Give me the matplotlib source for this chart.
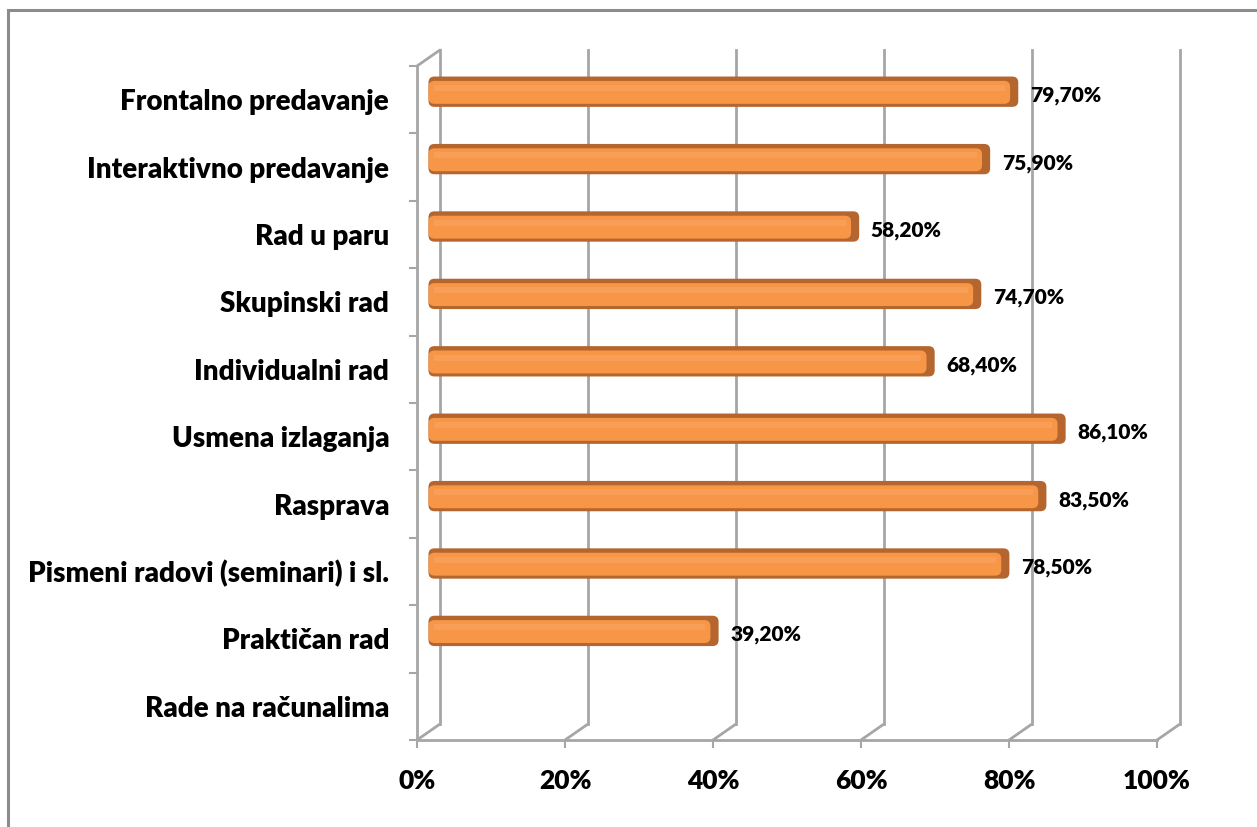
"""
Horizontal 3D-style bar chart (Excel look): share of teaching methods.
"""

import matplotlib
matplotlib.use("Agg")
import matplotlib.pyplot as plt
from matplotlib.patches import FancyBboxPatch, ConnectionPatch, Rectangle
from matplotlib.transforms import ScaledTranslation

# ── data ────────────────────────────────────────────────────────────
categories = [
    "Frontalno predavanje",
    "Interaktivno predavanje",
    "Rad u paru",
    "Skupinski rad",
    "Individualni rad",
    "Usmena izlaganja",
    "Rasprava",
    "Pismeni radovi (seminari) i sl.",
    "Praktičan rad",
    "Rade na računalima",
]
values = [79.7, 75.9, 58.2, 74.7, 68.4, 86.1, 83.5, 78.5, 39.2, None]
x_ticks = [0, 20, 40, 60, 80, 100]
x_tick_labels = ["0%", "20%", "40%", "60%", "80%", "100%"]

# ── style ───────────────────────────────────────────────────────────
FONT = "Lato"
WEIGHT = "heavy"
GRID = "#A6A6A6"
ORANGE = "#F79646"
ORANGE_DARK = "#B4662E"
HIGHLIGHT = "#F99E56"

W, H, DPI = 1257, 827, 100
fig = plt.figure(figsize=(W / DPI, H / DPI), dpi=DPI)
fig.patch.set_facecolor("white")

# outer chart border (only top/left visible in the crop)
fig.add_artist(Rectangle((8 / W, -0.05), 1.2, 1.05 - 10 / H,
                         transform=fig.transFigure, fill=False,
                         edgecolor="#8C8C8C", lw=2.2, clip_on=False))

# front plane of the plot area
ax = fig.add_axes([417 / W, 87 / H, 740 / W, 674 / H])
n = len(categories)
ax.set_xlim(0, 100)
ax.set_ylim(n - 0.5, -0.5)
ax.set_facecolor("none")

for side in ("top", "right"):
    ax.spines[side].set_visible(False)
for side in ("left", "bottom"):
    ax.spines[side].set_color(GRID)
    ax.spines[side].set_linewidth(2)

ax.set_xticks(x_ticks)
ax.set_xticklabels(x_tick_labels, fontsize=19, fontweight=WEIGHT,
                   fontfamily=FONT)
ax.set_yticks(range(n))
ax.set_yticklabels(categories, fontsize=20, fontweight=WEIGHT,
                   fontfamily=FONT)
ax.set_yticks([i - 0.5 for i in range(n + 1)], minor=True)
ax.tick_params(axis="x", direction="out", length=6, width=1.5,
               color=GRID, pad=15)
ax.tick_params(axis="y", which="major", length=0, pad=20)
ax.tick_params(axis="y", which="minor", direction="out", length=6,
               width=1.5, color=GRID)

# depth offsets (pixels -> inches)
back = ax.transData + ScaledTranslation(23 / DPI, 16 / DPI, fig.dpi_scale_trans)
mid = ax.transData + ScaledTranslation(11.5 / DPI, 8 / DPI, fig.dpi_scale_trans)

# back wall gridlines + floor diagonals
y_bot, y_top = n - 0.5, -0.5
for t in x_ticks:
    ax.plot([t, t], [y_bot, y_top], color=GRID, lw=2, transform=back,
            clip_on=False, zorder=0)
    ax.add_artist(ConnectionPatch((t, y_bot), (t, y_bot), coordsA=ax.transData,
                                  coordsB=back, color=GRID, lw=2, zorder=0))
# left wall top edge
ax.add_artist(ConnectionPatch((0, y_top), (0, y_top), coordsA=ax.transData,
                              coordsB=back, color=GRID, lw=2, zorder=0))

# ── bars ────────────────────────────────────────────────────────────
fig.canvas.draw()
bb = ax.get_window_extent()
px_x = bb.width / 100
px_y = bb.height / n
asp = px_x / px_y
r = 6 / px_x  # corner radius ~6 px

label_off = ax.transData + ScaledTranslation(23 / DPI, 4 / DPI, fig.dpi_scale_trans)

for i, v in enumerate(values):
    if v is None:
        continue
    h = 0.45
    # dark body (shows as top/bottom rim and the right end cap)
    ax.add_patch(FancyBboxPatch(
        (0, i - h / 2), v, h,
        boxstyle=f"round,pad=0,rounding_size={r}",
        mutation_aspect=asp, transform=mid, facecolor=ORANGE_DARK,
        edgecolor="none", clip_on=False, zorder=3))
    # orange front face
    hf = h - 0.11
    ax.add_patch(FancyBboxPatch(
        (0, i - hf / 2 + 0.01), v - 1.1, hf,
        boxstyle=f"round,pad=0,rounding_size={r}",
        mutation_aspect=asp, transform=mid, facecolor=ORANGE,
        edgecolor="none", clip_on=False, zorder=4))
    # soft highlight in the upper part of the face
    ax.add_patch(Rectangle((0.8, i - 0.1), v - 2.6, 0.09, transform=mid,
                           facecolor=HIGHLIGHT, edgecolor="none",
                           clip_on=False, zorder=5))
    ax.text(v, i, f"{v:.2f}%".replace(".", ","), transform=label_off,
            ha="left", va="center", fontsize=15, fontweight=WEIGHT,
            fontfamily=FONT, zorder=6)

fig.savefig("out.png", dpi=DPI)
